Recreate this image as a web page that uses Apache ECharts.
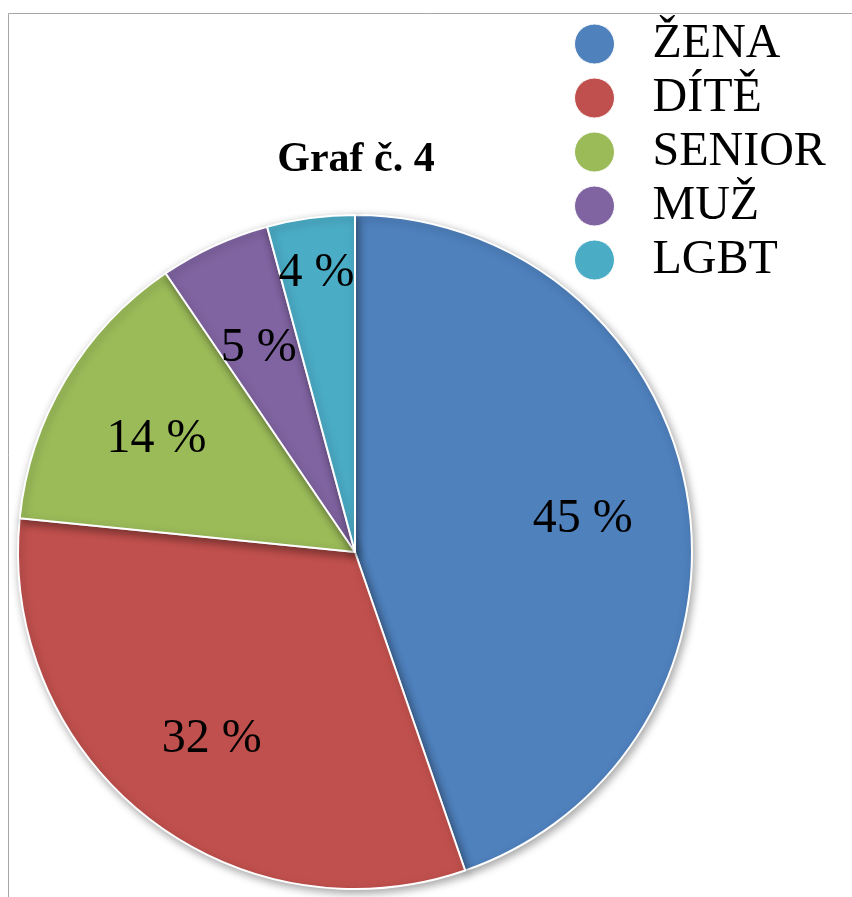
<!DOCTYPE html>
<html>
<head>
<meta charset="utf-8">
<script src="https://cdn.jsdelivr.net/npm/echarts@6/dist/echarts.min.js"></script>
<style>
  html, body { margin: 0; padding: 0; background: #fff; }
  #chart { width: 852px; height: 897px; }
</style>
</head>
<body>
<div id="chart"></div>
<script>
// Graf č. 4 — podíly skupin
const categories = ["ŽENA", "DÍTĚ", "SENIOR", "MUŽ", "LGBT"];
const shares = [44.7, 31.9, 13.9, 5.3, 4.2];
const colors = ["#4F81BD", "#C0504D", "#9BBB59", "#8064A2", "#4BACC6"];

const FONT = "'Liberation Serif', 'Times New Roman', serif";

const chart = echarts.init(document.getElementById("chart"));

const pieData = categories.map((name, i) => ({
  name,
  value: shares[i],
  itemStyle: { color: colors[i] },
}));

// labels sit further out than the default "inside" spot, so they ride on a clear ghost pie
const labelData = categories.map((name, i) => {
  const item = { name, value: shares[i] };
  if (name === "LGBT") item.label = { offset: [-8, -50] };
  return item;
});

chart.setOption({
  backgroundColor: "#fff",
  animation: false,
  title: {
    text: "Graf č. 4",
    left: 351,
    top: 134,
    textAlign: "center",
    textStyle: { fontFamily: FONT, fontSize: 42, fontWeight: "bold", color: "#000" },
  },
  legend: {
    orient: "vertical",
    left: 569,
    top: 12,
    itemWidth: 40,
    itemHeight: 40,
    itemGap: 0,
    icon: "circle",
    data: categories,
    itemStyle: { borderColor: "#fff", borderWidth: 1 },
    textStyle: {
      fontFamily: FONT,
      fontSize: 48,
      lineHeight: 54,
      color: "#000",
      padding: [0, 0, 0, 33],
    },
  },
  graphic: [
    {
      type: "rect",
      silent: true,
      shape: { x: 8.5, y: 13.5, width: 1000, height: 1000 },
      style: { fill: "none", stroke: "#a6a6a6", lineWidth: 1 },
    },
  ],
  series: [
    {
      type: "pie",
      center: [355, 552],
      radius: [0, 337],
      startAngle: 90,
      clockwise: true,
      silent: true,
      label: { show: false },
      labelLine: { show: false },
      itemStyle: {
        borderColor: "#fff",
        borderWidth: 2,
        shadowBlur: 8,
        shadowOffsetX: 2,
        shadowOffsetY: 3,
        shadowColor: "rgba(0,0,0,0.35)",
      },
      data: pieData,
    },
    {
      type: "pie",
      center: [355, 552],
      radius: [0, 456],
      startAngle: 90,
      clockwise: true,
      silent: true,
      z: 5,
      itemStyle: { color: "rgba(0,0,0,0)", borderWidth: 0 },
      label: {
        show: true,
        position: "inside",
        offset: [0, 6],
        fontFamily: FONT,
        fontSize: 48,
        color: "#000",
        formatter: (p) => Math.round(p.percent) + " %",
      },
      labelLine: { show: false },
      data: labelData,
    },
  ],
});
</script>
</body>
</html>
